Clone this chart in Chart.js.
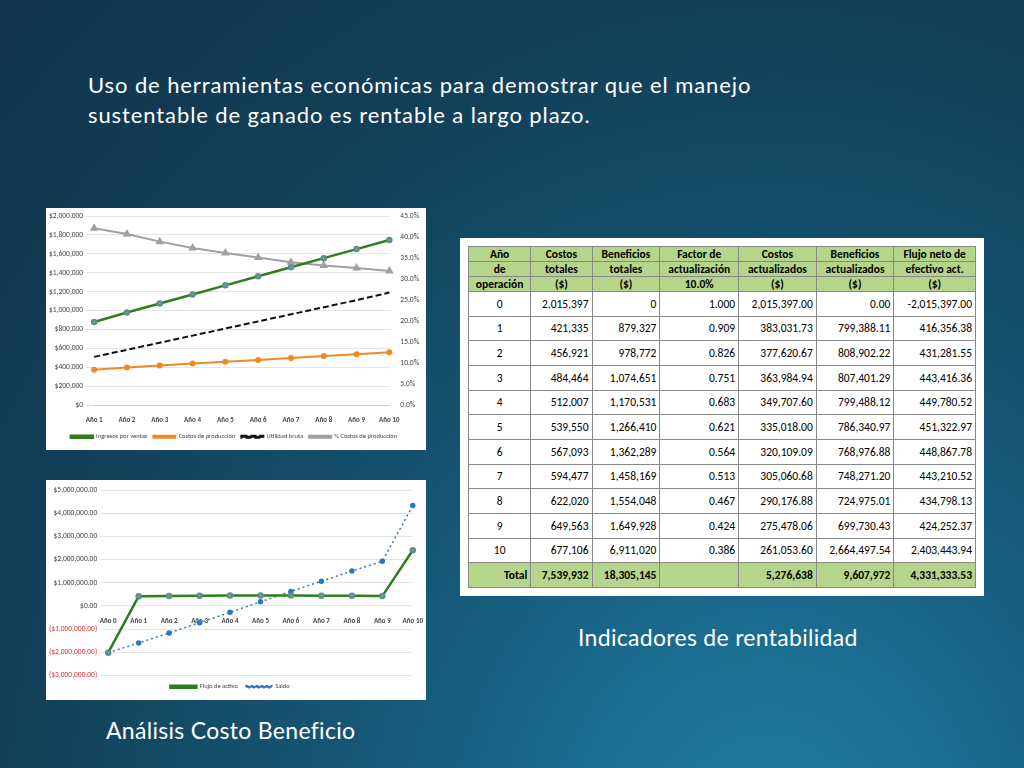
<!DOCTYPE html>
<html><head><meta charset="utf-8">
<script src="https://cdn.jsdelivr.net/npm/chart.js@4"></script>
<style>
body{margin:0;width:1024px;height:768px;overflow:hidden;font-family:Lato,"Open Sans",sans-serif;
 background:radial-gradient(ellipse at 75% 110%,#1f7fa6 0%,#175a7a 35%,#123f58 70%,#10354b 100%);position:relative}
.t{position:absolute;color:#fff}
.box{position:absolute;background:#fff}
table{border-collapse:collapse;font-family:Calibri,"Liberation Sans",sans-serif;font-size:11.5px;width:100%;height:100%}
td{border:1px solid #888;padding:0 3px;text-align:right;color:#000}
thead td{background:#b5d68a;text-align:center;font-weight:bold}
tr.tot td{background:#b5d68a;font-weight:bold}
td.c{text-align:center}
</style></head><body>
<div class="t" style="left:88px;top:70px;font-size:22px;letter-spacing:0.9px;line-height:30px">Uso de herramientas económicas para demostrar que el manejo<br>sustentable de ganado es rentable a largo plazo.</div>
<div class="box" style="left:46px;top:208px;width:380px;height:242px"><canvas id="c1"></canvas></div>
<div class="box" style="left:46px;top:480px;width:380px;height:220px"><canvas id="c2"></canvas></div>
<div class="box" style="left:460px;top:238px;width:524px;height:358px;padding:8px;box-sizing:border-box"><table id="tb"></table></div>
<div class="t" style="left:578px;top:623px;font-size:23px;letter-spacing:0.3px">Indicadores de rentabilidad</div>
<div class="t" style="left:106px;top:716px;font-size:23px;letter-spacing:0.3px">Análisis Costo Beneficio</div>
<script>
const years1 = ['Año 1','Año 2','Año 3','Año 4','Año 5','Año 6','Año 7','Año 8','Año 9','Año 10'];
const ingresos = [879327,978772,1074651,1170531,1266410,1362289,1458169,1554048,1649928,1745807];
const costos = [375000,398000,418000,440000,458000,478000,498000,518000,538000,558000];
const utilidad = [510000,585000,660000,735000,810000,885000,960000,1035000,1110000,1190000];
const pctCostos = [42.1,40.7,38.9,37.4,36.2,35.1,34.0,33.2,32.6,31.9];

const years2 = ['Año 0'].concat(years1);
const flujo = [-2015397,416356,431282,443416,449781,451323,448868,443211,434798,424252,2403443];
const saldo = [-2015397,-1599041,-1167759,-724343,-274562,176761,625629,1068839,1503638,1927890,4331334];

const tabHead = [['Año','Costos','Beneficios','Factor de','Costos','Beneficios','Flujo neto de'],
 ['de','totales','totales','actualización','actualizados','actualizados','efectivo act.'],
 ['operación','($)','($)','10.0%','($)','($)','($)']];
const tabRows = [
 ['0','2,015,397','0','1.000','2,015,397.00','0.00','-2,015,397.00'],
 ['1','421,335','879,327','0.909','383,031.73','799,388.11','416,356.38'],
 ['2','456,921','978,772','0.826','377,620.67','808,902.22','431,281.55'],
 ['3','484,464','1,074,651','0.751','363,984.94','807,401.29','443,416.36'],
 ['4','512,007','1,170,531','0.683','349,707.60','799,488.12','449,780.52'],
 ['5','539,550','1,266,410','0.621','335,018.00','786,340.97','451,322.97'],
 ['6','567,093','1,362,289','0.564','320,109.09','768,976.88','448,867.78'],
 ['7','594,477','1,458,169','0.513','305,060.68','748,271.20','443,210.52'],
 ['8','622,020','1,554,048','0.467','290,176.88','724,975.01','434,798.13'],
 ['9','649,563','1,649,928','0.424','275,478.06','699,730.43','424,252.37'],
 ['10','677,106','6,911,020','0.386','261,053.60','2,664,497.54','2,403,443.94']];
const tabTotal = ['Total','7,539,932','18,305,145','','5,276,638','9,607,972','4,331,333.53'];

document.getElementById('tb').innerHTML =
 '<thead>' + tabHead.map(r => '<tr>' + r.map(c => `<td>${c}</td>`).join('') + '</tr>').join('') + '</thead><tbody>' +
 tabRows.map(r => '<tr>' + r.map((c, i) => `<td class="${i == 0 ? 'c' : ''}">${c}</td>`).join('') + '</tr>').join('') +
 '<tr class="tot">' + tabTotal.map(c => `<td>${c}</td>`).join('') + '</tr></tbody>';

Chart.defaults.font.family = 'Calibri, "Liberation Sans", sans-serif';
Chart.defaults.font.size = 7.5;
Chart.defaults.color = '#444';
Chart.defaults.animation = false;
const fmt = (v, d) => v.toLocaleString('en-US', {minimumFractionDigits: d, maximumFractionDigits: d});

new Chart(document.getElementById('c1'), {
  type: 'line',
  data: { labels: years1, datasets: [
    { label: 'Ingresos por ventas', data: ingresos, borderColor: '#2e7d1f', backgroundColor: '#8fb9b4', pointBorderColor: '#5a8f8a', borderWidth: 2.5, pointRadius: 2, yAxisID: 'y' },
    { label: 'Costos de producción', data: costos, borderColor: '#ed8a25', backgroundColor: '#ed8a25', borderWidth: 2, pointRadius: 2, yAxisID: 'y' },
    { label: 'Utilidad bruta', data: utilidad, borderColor: '#111', backgroundColor: '#111', borderDash: [6, 3], borderWidth: 2, pointRadius: 0, yAxisID: 'y' },
    { label: '% Costos de producción', data: pctCostos, borderColor: '#a0a0a0', backgroundColor: '#8aa4c4', pointStyle: 'triangle', borderWidth: 2, pointRadius: 3, yAxisID: 'y1' }
  ]},
  options: { responsive: true, maintainAspectRatio: false,
    layout: { padding: { top: 8, right: 4, left: 0 } },
    plugins: { legend: { position: 'bottom', labels: { boxWidth: 22, boxHeight: 2, padding: 6, font: { size: 6.5 } } } },
    scales: {
      x: { grid: { display: false }, ticks: { font: { size: 7, weight: 'bold' } } },
      y: { min: 0, max: 2000000, ticks: { stepSize: 200000, callback: v => '$' + fmt(v, 0) }, border: { display: false }, grid: { color: '#e4e4e4' } },
      y1: { position: 'right', min: 0, max: 45, ticks: { stepSize: 5, callback: v => v.toFixed(1) + '%' }, border: { display: false }, grid: { display: false } }
    } }
});

new Chart(document.getElementById('c2'), {
  type: 'line',
  data: { labels: years2, datasets: [
    { label: 'Flujo de activo', data: flujo, borderColor: '#2e7d1f', backgroundColor: '#8fb9b4', pointBorderColor: '#5a8f8a', borderWidth: 2.5, pointRadius: 2 },
    { label: 'Saldo', data: saldo, borderColor: '#2d75c4', backgroundColor: '#2d75c4', borderDash: [2, 3], borderWidth: 1.5, pointRadius: 2 }
  ]},
  options: { responsive: true, maintainAspectRatio: false,
    layout: { padding: { top: 10, right: 12 } },
    plugins: { legend: { position: 'bottom', labels: { boxWidth: 26, boxHeight: 2, padding: 8, font: { size: 6.5 } } } },
    scales: {
      x: { position: { y: 0 }, grid: { display: false }, border: { display: false }, ticks: { font: { size: 7, weight: 'bold' } } },
      y: { min: -3000000, max: 5000000, ticks: { stepSize: 1000000,
             color: c => c.tick.value < 0 ? '#d33' : '#444',
             callback: v => v < 0 ? '($' + fmt(-v, 2) + ')' : '$' + fmt(v, 2) },
           border: { display: false }, grid: { color: '#e4e4e4' } }
    } }
});
</script>
</body></html>
